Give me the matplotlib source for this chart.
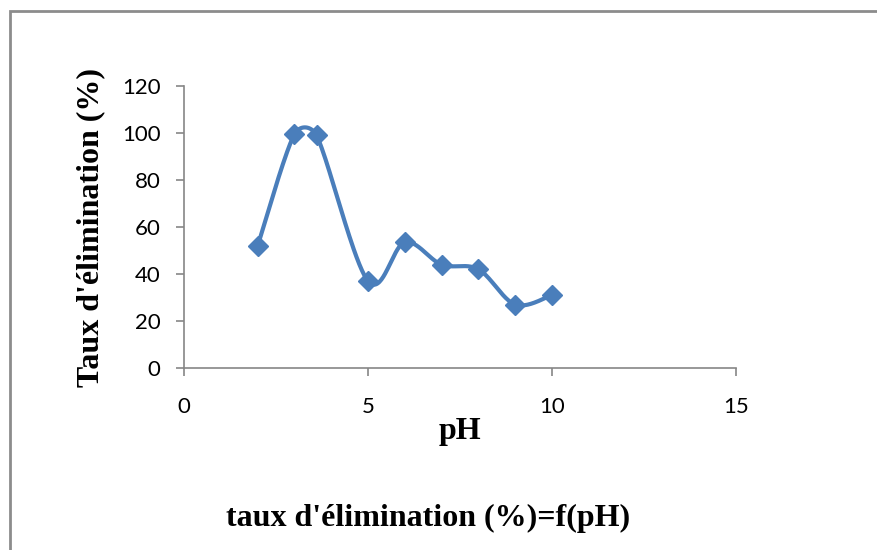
import numpy as np
import matplotlib.pyplot as plt
from matplotlib.patches import Rectangle

# pH vs taux d'élimination
ph = [2, 3, 3.6, 5, 6, 7, 8, 9, 10]
taux = [52, 99.5, 99, 37, 53.5, 44, 42, 27, 31]
xticks = [0, 5, 10, 15]
yticks = [0, 20, 40, 60, 80, 100, 120]

blue = '#4A7EBB'
grey = '#868686'

fig = plt.figure(figsize=(8.78, 5.5), dpi=100)
ax = fig.add_axes([0.2096, 0.3309, 0.6287, 0.5127])
ax.set_xlim(0, 15)
ax.set_ylim(0, 120)


def clamp(v, lim):
    n = np.hypot(*v)
    return v if n <= lim or n == 0 else v * lim / n


def smooth(xs, ys, n=40):
    # courbe lissée (Bezier, tension 1/6) calculée en pixels
    pts = ax.transData.transform(np.column_stack([xs, ys]))
    pts = np.vstack([pts[0], pts, pts[-1]])
    out = []
    t = np.linspace(0, 1, n)[:, None]
    for i in range(1, len(pts) - 2):
        p0, p1, p2, p3 = pts[i - 1], pts[i], pts[i + 1], pts[i + 2]
        seglen = np.hypot(*(p2 - p1))
        c1 = p1 + clamp((p2 - p0) / 6, seglen / 2)
        c2 = p2 - clamp((p3 - p1) / 6, seglen / 2)
        seg = ((1 - t) ** 3) * p1 + 3 * ((1 - t) ** 2) * t * c1 + 3 * (1 - t) * t ** 2 * c2 + t ** 3 * p2
        out.append(seg)
    out = np.vstack(out)
    return ax.transData.inverted().transform(out)


curve = smooth(ph, taux)
ax.plot(curve[:, 0], curve[:, 1], color=blue, lw=3, solid_capstyle='round', zorder=2)
ax.plot(ph, taux, ls='none', marker='D', ms=10, color=blue, zorder=3)

ax.set_xticks(xticks)
ax.set_yticks(yticks)
for s in ['top', 'right']:
    ax.spines[s].set_visible(False)
for s in ['left', 'bottom']:
    ax.spines[s].set_color(grey)
    ax.spines[s].set_linewidth(1.2)
ax.tick_params(axis='both', color=grey, width=1.2, length=6, labelsize=16, labelcolor='black')
ax.tick_params(axis='x', pad=15)
ax.tick_params(axis='y', pad=11)
for lab in ax.get_xticklabels() + ax.get_yticklabels():
    lab.set_fontfamily('Lato')

ax.set_xlabel('pH', family='Liberation Serif', weight='bold', fontsize=23, labelpad=0)
ax.set_ylabel("Taux d'élimination (%)", family='Liberation Serif', weight='bold', fontsize=23, labelpad=12)

fig.text(0.4875, 0.058, "taux d'élimination (%)=f(pH)", family='Liberation Serif',
         weight='bold', fontsize=23, ha='center', va='center')

# cadre du graphique
fig.patches.append(Rectangle((10.5 / 878, -0.01), 1.0, 1 - 11 / 550 + 0.01,
                             transform=fig.transFigure, fill=False, ec='#8c8c8c', lw=2))

fig.savefig('out.png', dpi=100)
